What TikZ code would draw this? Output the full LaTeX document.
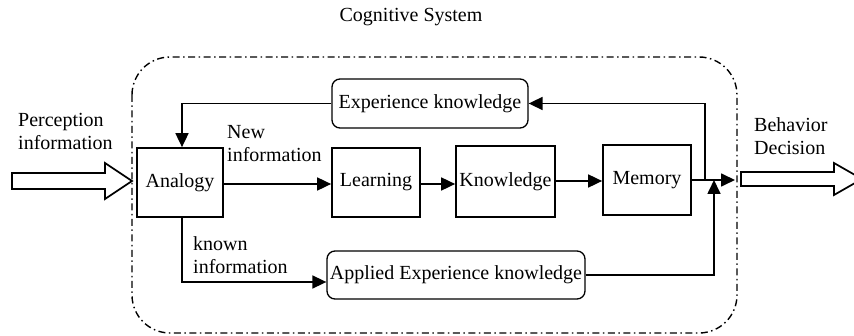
\documentclass[tikz,border=0pt]{standalone}
\usepackage{fontspec}
\setmainfont{Liberation Serif}
\usetikzlibrary{arrows.meta}
\begin{document}
\begin{tikzpicture}[x=1pt,y=-1pt,
  every node/.style={font=\fontsize{20}{23}\selectfont, inner sep=0pt},
  blockbox/.style={draw, line width=1.7pt, minimum width=#1, align=center},
  roundbox/.style={draw, line width=1.3pt, rounded corners=8pt, minimum width=#1, align=center},
  conn/.style={line width=1.7pt, -{Triangle[length=14pt,width=13pt]}},
  plainline/.style={line width=1.7pt},
  bigarrow/.style={draw, line width=1.7pt, fill=white, line join=miter},
  sysframe/.style={line width=1.4pt, rounded corners=38pt, dash pattern=on 7pt off 3.5pt on 1.5pt off 3.5pt},
  label/.style={align=left, anchor=west}]
\useasboundingbox (0,0) rectangle (854,336);

% system boundary and its title
\draw[sysframe] (132,57) rectangle (737,333);
\node (title) at (411,17) {Cognitive System};

% processing blocks
\node[blockbox=86pt, minimum height=69pt] (analogy) at (180,182.5) {Analogy};
\node[blockbox=88pt, minimum height=69pt] (learning) at (376,182.5) {Learning};
\node[blockbox=99pt, minimum height=71pt] (knowledge) at (505.5,181.5) {Knowledge};
\node[blockbox=88pt, minimum height=70pt] (memory) at (647,180) {Memory};
\node[roundbox=196pt, minimum height=49pt] (exp) at (430,103.5) {Experience knowledge};
\node[roundbox=258pt, minimum height=48pt] (applied) at (456,275) {Applied Experience knowledge};

% junction points on the output side
\coordinate (outtip) at (735,180);
\coordinate (fb) at (705,180);
\coordinate (merge) at (714,180);

% main chain
\draw[conn] (analogy.east |- 0,184) -- (learning.west |- 0,184);
\draw[conn] (learning.east |- 0,184) -- (knowledge.west |- 0,184);
\draw[conn] (knowledge.east |- 0,181) -- (memory.west |- 0,181);
\draw[conn] (memory.east) -- (outtip);

% feedback through experience knowledge
\draw[conn] (fb) |- (exp.east);
\draw[conn] (exp.west) -| ([xshift=2pt]analogy.north);

% known information path
\draw[conn] ([xshift=2pt]analogy.south) |- ([yshift=-7pt]applied.west);
\draw[conn] (applied.east) -| (merge);

% input and output arrows
\draw[bigarrow] (12,173) -- (105,173) -- (105,163) -- (132,181) -- (105,199) -- (105,189) -- (12,189) -- cycle;
\draw[bigarrow] (741,172) -- (834,172) -- (834,163) -- (862,179) -- (834,195) -- (834,186) -- (741,186) -- cycle;

% text labels
\node[label] (perc) at (18,131) {Perception\\information};
\node[label] (newinfo) at (227,144) {New\\information};
\node[label] (known) at (193,255) {known\\information};
\node[label] (behav) at (754,136) {Behavior\\Decision};
\end{tikzpicture}
\end{document}
